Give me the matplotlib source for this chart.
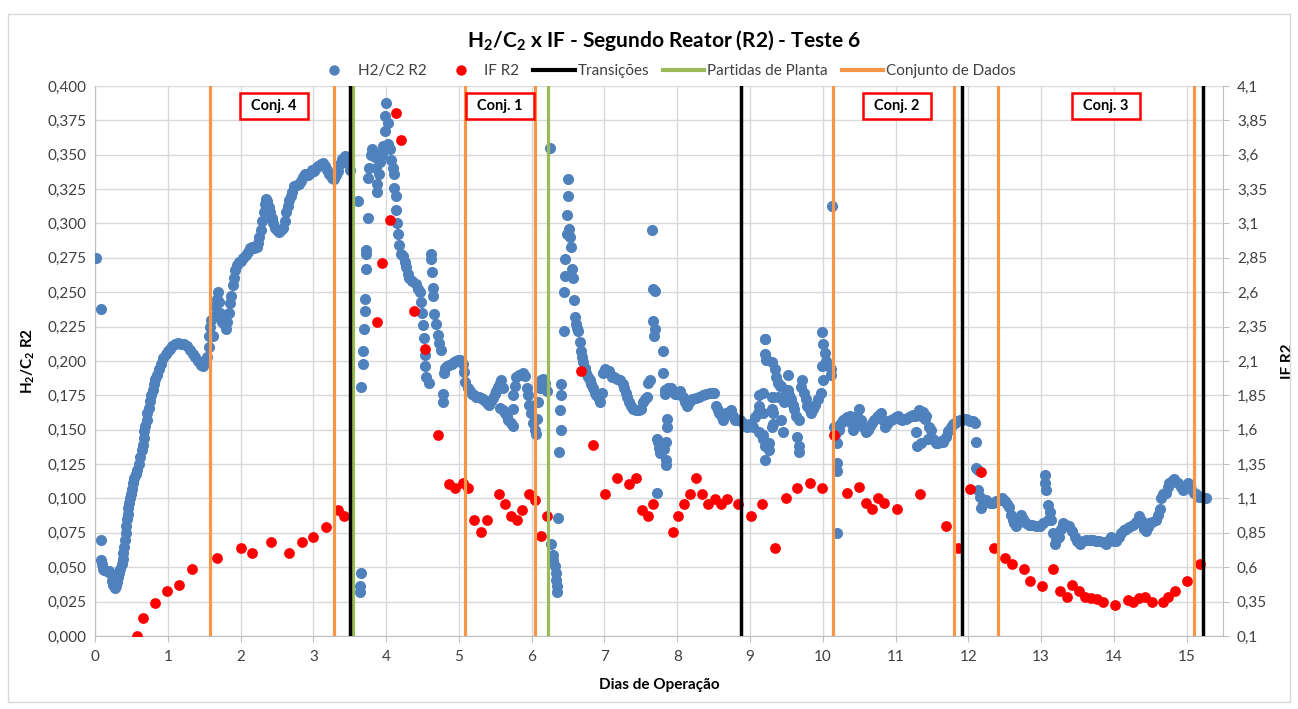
import numpy as np
import matplotlib
matplotlib.use("Agg")
import matplotlib.pyplot as plt
from matplotlib.lines import Line2D
from matplotlib.patches import Rectangle
from matplotlib.ticker import FixedLocator, FuncFormatter

plt.rcParams['font.family'] = ['Lato', 'DejaVu Sans']
plt.rcParams['mathtext.default'] = 'regular'

# H2/C2 R2 (dia, razao) - partida ate a primeira transicao
h2c2_inicio = [
    (0.02, 0.275), (0.08, 0.238), (0.08, 0.070), (0.08, 0.055), (0.10, 0.052), (0.11, 0.049), (0.13, 0.048),
    (0.16, 0.047), (0.19, 0.047), (0.21, 0.046), (0.23, 0.044), (0.24, 0.040), (0.25, 0.037), (0.27, 0.035),
    (0.29, 0.036), (0.30, 0.039), (0.31, 0.043), (0.33, 0.046), (0.35, 0.049), (0.37, 0.052), (0.38, 0.056),
    (0.39, 0.060), (0.40, 0.065), (0.41, 0.070), (0.42, 0.075), (0.43, 0.080), (0.44, 0.085), (0.45, 0.089),
    (0.46, 0.093), (0.47, 0.097), (0.48, 0.100), (0.50, 0.103), (0.51, 0.107), (0.52, 0.111), (0.54, 0.115),
    (0.56, 0.118), (0.58, 0.121), (0.60, 0.125), (0.62, 0.130), (0.64, 0.135), (0.66, 0.139), (0.67, 0.144),
    (0.68, 0.149), (0.69, 0.153), (0.71, 0.157), (0.72, 0.162), (0.74, 0.166), (0.76, 0.171), (0.77, 0.175),
    (0.79, 0.179), (0.81, 0.183), (0.83, 0.187), (0.85, 0.190), (0.88, 0.194), (0.91, 0.198), (0.94, 0.202),
    (0.97, 0.205), (1.00, 0.207), (1.03, 0.209), (1.06, 0.211), (1.10, 0.212), (1.14, 0.213), (1.18, 0.212),
    (1.22, 0.212), (1.26, 0.211), (1.30, 0.208), (1.34, 0.205), (1.38, 0.203), (1.42, 0.200), (1.46, 0.197),
    (1.49, 0.196), (1.52, 0.199), (1.54, 0.203), (1.56, 0.210), (1.57, 0.218), (1.58, 0.225), (1.60, 0.230),
    (1.62, 0.218), (1.63, 0.233), (1.65, 0.240), (1.67, 0.245), (1.69, 0.250), (1.70, 0.243), (1.72, 0.235),
    (1.74, 0.228), (1.76, 0.232), (1.78, 0.226), (1.80, 0.223), (1.82, 0.228), (1.84, 0.235), (1.86, 0.242),
    (1.87, 0.247), (1.89, 0.255), (1.91, 0.260), (1.93, 0.266), (1.95, 0.270), (1.98, 0.272), (2.01, 0.273),
    (2.04, 0.275), (2.07, 0.277), (2.10, 0.279), (2.13, 0.282), (2.16, 0.283), (2.19, 0.282), (2.22, 0.283),
    (2.24, 0.286), (2.26, 0.290), (2.28, 0.295), (2.30, 0.302), (2.32, 0.308), (2.34, 0.314), (2.35, 0.318),
    (2.37, 0.316), (2.39, 0.312), (2.41, 0.308), (2.43, 0.304), (2.45, 0.300), (2.47, 0.297), (2.50, 0.295),
    (2.53, 0.294), (2.56, 0.295), (2.59, 0.297), (2.61, 0.302), (2.63, 0.308), (2.65, 0.313), (2.67, 0.317),
    (2.69, 0.320), (2.71, 0.323), (2.74, 0.327), (2.77, 0.328), (2.80, 0.329), (2.83, 0.331), (2.86, 0.334),
    (2.89, 0.336), (2.92, 0.335), (2.95, 0.337), (2.98, 0.339), (3.01, 0.338), (3.04, 0.340), (3.07, 0.342),
    (3.10, 0.343), (3.13, 0.344), (3.16, 0.342), (3.19, 0.339), (3.22, 0.336), (3.25, 0.333), (3.28, 0.332),
    (3.31, 0.335), (3.34, 0.338), (3.37, 0.343), (3.40, 0.347), (3.43, 0.349), (3.46, 0.348), (3.49, 0.343),
    (3.51, 0.339),
]

# H2/C2 R2 - apos a partida de planta (dia 3,5 a 6,2)
h2c2_meio = [
    (3.62, 0.316), (3.65, 0.046), (3.64, 0.036), (3.64, 0.032), (3.66, 0.181), (3.68, 0.198), (3.68, 0.207),
    (3.70, 0.223), (3.71, 0.236), (3.71, 0.245), (3.72, 0.267), (3.72, 0.278), (3.73, 0.281), (3.75, 0.304),
    (3.75, 0.333), (3.77, 0.340), (3.79, 0.350), (3.81, 0.354), (3.83, 0.352), (3.85, 0.348), (3.86, 0.340),
    (3.88, 0.329), (3.88, 0.323), (3.90, 0.336), (3.92, 0.345), (3.94, 0.350), (3.96, 0.356), (3.98, 0.367),
    (3.98, 0.378), (4.00, 0.388), (4.02, 0.373), (4.02, 0.358), (4.05, 0.354), (4.07, 0.346), (4.09, 0.340),
    (4.11, 0.336), (4.11, 0.326), (4.13, 0.320), (4.13, 0.310), (4.15, 0.300), (4.17, 0.292), (4.18, 0.284),
    (4.21, 0.278), (4.23, 0.276), (4.26, 0.272), (4.28, 0.268), (4.30, 0.263), (4.32, 0.260), (4.36, 0.258),
    (4.41, 0.256), (4.44, 0.252), (4.46, 0.250), (4.48, 0.243), (4.50, 0.235), (4.51, 0.226), (4.52, 0.217),
    (4.53, 0.204), (4.54, 0.196), (4.55, 0.188), (4.59, 0.184), (4.62, 0.278), (4.62, 0.274), (4.63, 0.265),
    (4.64, 0.253), (4.65, 0.247), (4.66, 0.234), (4.69, 0.227), (4.71, 0.219), (4.73, 0.213), (4.76, 0.208),
    (4.78, 0.176), (4.78, 0.170), (4.79, 0.191), (4.81, 0.195), (4.84, 0.196), (4.87, 0.197), (4.90, 0.198),
    (4.93, 0.199), (4.96, 0.200), (4.99, 0.201), (5.02, 0.201), (5.05, 0.198), (5.07, 0.192), (5.09, 0.185),
    (5.12, 0.180), (5.15, 0.178), (5.18, 0.176), (5.21, 0.175), (5.24, 0.174), (5.27, 0.174), (5.30, 0.173),
    (5.33, 0.172), (5.36, 0.171), (5.38, 0.170), (5.40, 0.169), (5.42, 0.168), (5.44, 0.171), (5.47, 0.173),
    (5.49, 0.176), (5.51, 0.178), (5.54, 0.181), (5.56, 0.184), (5.58, 0.186), (5.60, 0.180), (5.56, 0.166),
    (5.60, 0.164), (5.63, 0.162), (5.66, 0.160), (5.68, 0.157), (5.71, 0.155), (5.74, 0.153), (5.74, 0.165),
    (5.75, 0.175), (5.77, 0.182), (5.79, 0.188), (5.82, 0.190), (5.85, 0.190), (5.88, 0.191), (5.91, 0.189),
    (5.93, 0.180), (5.95, 0.175), (5.97, 0.168), (5.99, 0.162), (6.02, 0.155), (6.04, 0.150), (6.06, 0.147),
    (6.08, 0.158), (6.09, 0.170), (6.11, 0.180), (6.13, 0.186), (6.16, 0.187), (6.19, 0.184), (6.21, 0.178),
]

# H2/C2 R2 - segunda partida ate o fim da transicao do dia 11,9
h2c2_fim = [
    (6.25, 0.355), (6.27, 0.067), (6.29, 0.059), (6.30, 0.055), (6.32, 0.051), (6.33, 0.046), (6.34, 0.041),
    (6.35, 0.036), (6.35, 0.032), (6.36, 0.086), (6.38, 0.134), (6.39, 0.164), (6.40, 0.175), (6.41, 0.150),
    (6.41, 0.183), (6.44, 0.222), (6.45, 0.250), (6.46, 0.262), (6.46, 0.274), (6.48, 0.292), (6.49, 0.306),
    (6.50, 0.320), (6.50, 0.332), (6.52, 0.296), (6.53, 0.290), (6.54, 0.283), (6.56, 0.267), (6.57, 0.260),
    (6.58, 0.244), (6.60, 0.232), (6.61, 0.227), (6.63, 0.224), (6.64, 0.222), (6.66, 0.214), (6.68, 0.207),
    (6.69, 0.203), (6.71, 0.199), (6.73, 0.195), (6.75, 0.191), (6.78, 0.188), (6.80, 0.186), (6.82, 0.183),
    (6.84, 0.180), (6.87, 0.177), (6.89, 0.175), (6.92, 0.172), (6.94, 0.170), (6.96, 0.177), (6.98, 0.191),
    (7.01, 0.194), (7.03, 0.193), (7.06, 0.193), (7.10, 0.188), (7.13, 0.188), (7.17, 0.187), (7.22, 0.186),
    (7.25, 0.183), (7.27, 0.180), (7.29, 0.177), (7.31, 0.174), (7.34, 0.170), (7.36, 0.167), (7.39, 0.165),
    (7.43, 0.164), (7.47, 0.164), (7.50, 0.165), (7.53, 0.170), (7.56, 0.172), (7.58, 0.174), (7.60, 0.184),
    (7.62, 0.186), (7.65, 0.295), (7.67, 0.252), (7.70, 0.251), (7.67, 0.229), (7.69, 0.223), (7.68, 0.218),
    (7.72, 0.143), (7.73, 0.141), (7.75, 0.137), (7.77, 0.133), (7.72, 0.104), (7.81, 0.207), (7.81, 0.191),
    (7.82, 0.136), (7.83, 0.179), (7.84, 0.141), (7.85, 0.124), (7.85, 0.128), (7.86, 0.152), (7.86, 0.158),
    (7.83, 0.176), (7.88, 0.180), (7.91, 0.180), (7.94, 0.178), (7.97, 0.176), (8.00, 0.176), (8.04, 0.178),
    (8.08, 0.174), (8.11, 0.170), (8.13, 0.167), (8.15, 0.169), (8.17, 0.171), (8.21, 0.172), (8.26, 0.173),
    (8.30, 0.174), (8.35, 0.175), (8.40, 0.176), (8.45, 0.177), (8.49, 0.177), (8.51, 0.177), (8.53, 0.167),
    (8.56, 0.164), (8.58, 0.162), (8.61, 0.159), (8.63, 0.157), (8.67, 0.162), (8.71, 0.163), (8.74, 0.164),
    (8.77, 0.160), (8.79, 0.157), (8.83, 0.157), (8.86, 0.157), (8.90, 0.155), (8.93, 0.153), (8.96, 0.152),
    (9.00, 0.154), (9.04, 0.152), (9.07, 0.159), (9.11, 0.162), (9.13, 0.175), (9.13, 0.167), (9.13, 0.148),
    (9.15, 0.147), (9.18, 0.162), (9.18, 0.177), (9.18, 0.143), (9.18, 0.146), (9.20, 0.138), (9.20, 0.128),
    (9.20, 0.216), (9.20, 0.205), (9.21, 0.216), (9.22, 0.201), (9.24, 0.201), (9.26, 0.140), (9.26, 0.135),
    (9.30, 0.199), (9.30, 0.174), (9.30, 0.165), (9.30, 0.152), (9.32, 0.174), (9.32, 0.162), (9.32, 0.154),
    (9.34, 0.194), (9.36, 0.188), (9.39, 0.184), (9.39, 0.174), (9.41, 0.182), (9.43, 0.182), (9.43, 0.157),
    (9.45, 0.148), (9.47, 0.170), (9.49, 0.178), (9.52, 0.190), (9.52, 0.179), (9.54, 0.175), (9.56, 0.172),
    (9.59, 0.168), (9.61, 0.165), (9.63, 0.160), (9.65, 0.145), (9.68, 0.157), (9.68, 0.138), (9.68, 0.134),
    (9.70, 0.181), (9.72, 0.186), (9.74, 0.177), (9.77, 0.172), (9.79, 0.167), (9.82, 0.164), (9.84, 0.162),
    (9.87, 0.165), (9.90, 0.168), (9.93, 0.172), (9.97, 0.177), (9.99, 0.221), (10.01, 0.212), (10.01, 0.186),
    (10.03, 0.206), (9.99, 0.196), (10.05, 0.200), (10.08, 0.196), (10.12, 0.194), (10.12, 0.190), (10.13, 0.313),
    (10.15, 0.152), (10.17, 0.146), (10.19, 0.140), (10.19, 0.126), (10.19, 0.120), (10.20, 0.075), (10.22, 0.150),
    (10.25, 0.155), (10.28, 0.157), (10.31, 0.158), (10.34, 0.159), (10.37, 0.160), (10.39, 0.155), (10.41, 0.150),
    (10.44, 0.155), (10.47, 0.160), (10.50, 0.165), (10.52, 0.157), (10.55, 0.152), (10.59, 0.148), (10.62, 0.150),
    (10.65, 0.153), (10.68, 0.155), (10.71, 0.157), (10.74, 0.159), (10.77, 0.161), (10.80, 0.162), (10.83, 0.157),
    (10.85, 0.152), (10.88, 0.154), (10.91, 0.156), (10.94, 0.157), (10.97, 0.158), (11.00, 0.159), (11.03, 0.160),
    (11.06, 0.158), (11.09, 0.157), (11.12, 0.158), (11.15, 0.158), (11.18, 0.159), (11.21, 0.160), (11.24, 0.161),
    (11.27, 0.160), (11.28, 0.148), (11.30, 0.138), (11.32, 0.164), (11.35, 0.160), (11.35, 0.140), (11.38, 0.163),
    (11.40, 0.158), (11.42, 0.160), (11.44, 0.143), (11.46, 0.152), (11.49, 0.150), (11.52, 0.143), (11.55, 0.140),
    (11.58, 0.140), (11.62, 0.142), (11.65, 0.141), (11.69, 0.145), (11.72, 0.149), (11.76, 0.152), (11.79, 0.154),
    (11.82, 0.155), (11.85, 0.156), (11.88, 0.157), (11.91, 0.157), (11.94, 0.158), (11.97, 0.158), (12.00, 0.157),
    (12.03, 0.156), (12.06, 0.156), (12.09, 0.155),
]

# H2/C2 R2 - ultimo trecho (Conj. 3)
h2c2_conj3 = [
    (12.11, 0.141), (12.11, 0.122), (12.13, 0.121), (12.13, 0.106), (12.16, 0.101), (12.18, 0.093), (12.20, 0.097),
    (12.25, 0.099), (12.30, 0.097), (12.34, 0.097), (12.38, 0.098), (12.43, 0.099), (12.47, 0.100), (12.50, 0.098),
    (12.53, 0.096), (12.56, 0.094), (12.59, 0.088), (12.61, 0.084), (12.63, 0.082), (12.66, 0.080), (12.69, 0.084),
    (12.72, 0.088), (12.75, 0.085), (12.79, 0.082), (12.83, 0.081), (12.88, 0.081), (12.93, 0.080), (12.98, 0.080),
    (13.02, 0.082), (13.05, 0.117), (13.06, 0.111), (13.07, 0.106), (13.09, 0.084), (13.10, 0.095), (13.12, 0.090),
    (13.14, 0.084), (13.16, 0.075), (13.19, 0.067), (13.21, 0.070), (13.24, 0.072), (13.27, 0.078), (13.30, 0.082),
    (13.34, 0.081), (13.39, 0.080), (13.43, 0.076), (13.46, 0.072), (13.50, 0.069), (13.53, 0.067), (13.57, 0.069),
    (13.62, 0.070), (13.67, 0.070), (13.71, 0.070), (13.76, 0.069), (13.80, 0.069), (13.85, 0.068), (13.89, 0.067),
    (13.93, 0.070), (13.96, 0.072), (14.00, 0.069), (14.03, 0.069), (14.07, 0.072), (14.10, 0.075), (14.14, 0.077),
    (14.17, 0.078), (14.21, 0.079), (14.26, 0.081), (14.30, 0.083), (14.35, 0.087), (14.38, 0.084), (14.40, 0.081),
    (14.42, 0.078), (14.44, 0.076), (14.47, 0.079), (14.49, 0.082), (14.53, 0.083), (14.58, 0.084), (14.61, 0.088),
    (14.63, 0.092), (14.65, 0.100), (14.67, 0.103), (14.70, 0.104), (14.72, 0.104), (14.74, 0.108), (14.76, 0.111),
    (14.80, 0.113), (14.83, 0.114), (14.86, 0.112), (14.88, 0.111), (14.92, 0.108), (14.95, 0.106), (14.98, 0.108),
    (15.02, 0.111), (15.06, 0.107), (15.10, 0.104), (15.13, 0.103), (15.17, 0.101), (15.20, 0.101), (15.24, 0.100),
    (15.27, 0.100),
]

# IF R2 (dia, indice de fluidez)
if_r2 = [
    (0.58, 0.100), (0.665, 0.230), (0.83, 0.337), (0.99, 0.430), (1.16, 0.470), (1.33, 0.590), (1.67, 0.667),
    (2.00, 0.742), (2.16, 0.705), (2.42, 0.781), (2.66, 0.705), (2.84, 0.780), (3.00, 0.820), (3.17, 0.895),
    (3.34, 1.016), (3.42, 0.972), (3.88, 2.385), (3.95, 2.811), (4.05, 3.122), (4.13, 3.906), (4.21, 3.709),
    (4.38, 2.462), (4.54, 2.190), (4.71, 1.562), (4.87, 1.207), (4.95, 1.174), (5.05, 1.213), (5.13, 1.174),
    (5.21, 0.941), (5.30, 0.858), (5.38, 0.941), (5.55, 1.135), (5.63, 1.058), (5.71, 0.975), (5.80, 0.941),
    (5.87, 1.019), (5.96, 1.135), (6.05, 1.091), (6.13, 0.825), (6.21, 0.975), (6.68, 2.030), (6.84, 1.487),
    (7.01, 1.135), (7.17, 1.251), (7.34, 1.207), (7.43, 1.250), (7.51, 1.017), (7.60, 0.976), (7.67, 1.058),
    (7.94, 0.857), (8.01, 0.976), (8.10, 1.058), (8.17, 1.133), (8.26, 1.250), (8.34, 1.133), (8.43, 1.058),
    (8.52, 1.097), (8.60, 1.058), (8.68, 1.097), (8.84, 1.058), (9.01, 0.976), (9.17, 1.058), (9.34, 0.743),
    (9.50, 1.104), (9.65, 1.176), (9.82, 1.210), (9.99, 1.176), (10.15, 1.560), (10.33, 1.140), (10.50, 1.180),
    (10.60, 1.070), (10.68, 1.020), (10.76, 1.100), (10.84, 1.070), (11.02, 1.020), (11.34, 1.130), (11.69, 0.900),
    (11.86, 0.738), (12.02, 1.170), (12.18, 1.295), (12.35, 0.738), (12.51, 0.665), (12.60, 0.624), (12.76, 0.587),
    (12.85, 0.503), (13.01, 0.466), (13.17, 0.587), (13.26, 0.430), (13.35, 0.386), (13.43, 0.471), (13.52, 0.430),
    (13.60, 0.386), (13.69, 0.374), (13.77, 0.367), (13.85, 0.350), (14.02, 0.326), (14.19, 0.362), (14.26, 0.350),
    (14.34, 0.374), (14.43, 0.386), (14.52, 0.350), (14.68, 0.345), (14.75, 0.386), (14.84, 0.430), (15.01, 0.503),
    (15.19, 0.624),
]

# marcos verticais (dias)
transicoes = [3.51, 8.88, 11.92, 15.23]
partidas = [3.55, 6.22]
conjuntos = [1.58, 3.29, 5.09, 6.04, 10.14, 11.80, 12.41, 15.10]

# caixas dos conjuntos de dados: (rotulo, dia central)
rotulos_conj = ["Conj. 4", "Conj. 1", "Conj. 2", "Conj. 3"]
dia_rotulo = [2.46, 5.56, 11.02, 13.89]

azul = '#4F81BD'
vermelho = '#FF0000'
laranja = '#F79646'
verde = '#9BBB59'
grade = '#D9D9D9'

h2c2 = np.array(h2c2_inicio + h2c2_meio + h2c2_fim + h2c2_conj3)
ifr2 = np.array(if_r2)

fig = plt.figure(figsize=(12.98, 7.09), dpi=100)
ax = fig.add_axes([0.0732, 0.1030, 0.8690, 0.7757])
ax2 = ax.twinx()

ax.scatter(h2c2[:, 0], h2c2[:, 1], s=64, color=azul, linewidths=0, zorder=3)
ax2.scatter(ifr2[:, 0], ifr2[:, 1], s=60, color=vermelho, linewidths=0, zorder=3)

for d in conjuntos:
    ax2.axvline(d, color=laranja, lw=2.3, zorder=4)
for d in partidas:
    ax2.axvline(d, color=verde, lw=2.3, zorder=4)
for d in transicoes:
    ax2.axvline(d, color='black', lw=2.5, zorder=5)

# caixas com os nomes dos conjuntos
for txt, d in zip(rotulos_conj, dia_rotulo):
    ax2.add_patch(Rectangle((d - 0.467, 0.3762), 0.934, 0.0189, transform=ax.transData,
                            facecolor='white', edgecolor='#FF0000', lw=1.8, zorder=6))
    ax2.text(d, 0.3857, txt, transform=ax.transData, ha='center', va='center',
             fontsize=10.5, fontweight='bold', zorder=7)

ax.set_xlim(0, 15.5)
ax.set_ylim(0, 0.4)
ax2.set_ylim(0.1, 4.1)
ax.xaxis.set_major_locator(FixedLocator(range(0, 16)))
ax.yaxis.set_major_locator(FixedLocator(np.arange(0, 0.4001, 0.025)))
ax2.yaxis.set_major_locator(FixedLocator(np.arange(0.1, 4.1001, 0.25)))
ax.yaxis.set_major_formatter(FuncFormatter(lambda v, p: f"{v:.3f}".replace('.', ',')))
ax2.yaxis.set_major_formatter(FuncFormatter(lambda v, p: f"{v:.2f}".rstrip('0').rstrip('.').replace('.', ',')))

ax.grid(True, color=grade, lw=1, zorder=0)
ax.set_axisbelow(True)
for a in (ax, ax2):
    for s in a.spines.values():
        s.set_visible(False)
ax.spines['bottom'].set_visible(True)
ax.spines['bottom'].set_color('#BFBFBF')
ax.spines['left'].set_visible(True)
ax.spines['left'].set_color('#BFBFBF')
ax2.spines['right'].set_visible(True)
ax2.spines['right'].set_color('#BFBFBF')

ax.tick_params(axis='x', length=4, color='#BFBFBF', labelsize=11, labelcolor='#404040', pad=6)
ax.tick_params(axis='y', length=0, labelsize=11, labelcolor='#404040', pad=6)
ax2.tick_params(axis='y', length=4, color='#BFBFBF', labelsize=11, labelcolor='#404040', pad=6)

ax.set_xlabel('Dias de Operação', fontsize=11, fontweight='bold', labelpad=10)
ax.set_ylabel(r'H$_2$/C$_2$ R2', fontsize=11, fontweight='bold', labelpad=8)
ax2.set_ylabel('IF R2', fontsize=11, fontweight='bold', labelpad=10)

fig.text(0.512, 0.943, r'H$_2$/C$_2$ x IF - Segundo Reator (R2) - Teste 6', ha='center', va='center',
         fontsize=15, fontweight='bold')

handles = [
    Line2D([], [], ls='', marker='o', ms=7.5, color=azul, mec='none'),
    Line2D([], [], ls='', marker='o', ms=7.5, color=vermelho, mec='none'),
    Line2D([], [], color='black', lw=3),
    Line2D([], [], color=verde, lw=3),
    Line2D([], [], color=laranja, lw=3),
]
labels = ['H2/C2 R2', 'IF R2', 'Transições', 'Partidas de Planta', 'Conjunto de Dados']
fig.legend(handles, labels, loc='center', bbox_to_anchor=(0.512, 0.900), ncol=5, frameon=False,
           fontsize=11, handlelength=2.7, handletextpad=0.2, columnspacing=0.9, labelcolor='#404040')

# borda da area do grafico
fig.add_artist(Rectangle((0.006, 0.010), 0.988, 0.970, transform=fig.transFigure,
                         fill=False, edgecolor='#D9D9D9', lw=1))

fig.savefig('out.png', dpi=100)
